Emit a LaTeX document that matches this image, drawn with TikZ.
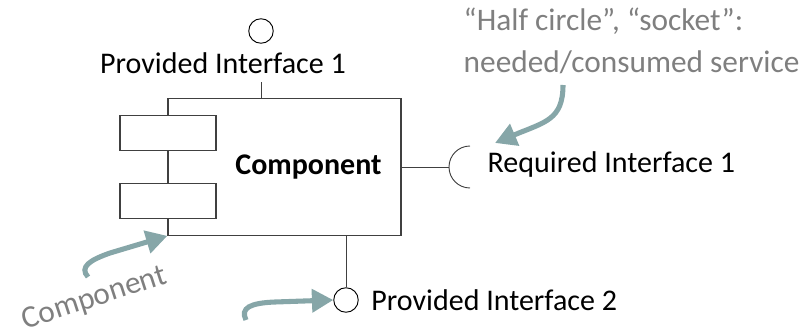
\documentclass[tikz,border=0pt]{standalone}
\usepackage{fontspec}
\setmainfont{Carlito}
\usepackage{xcolor}
\usetikzlibrary{arrows.meta,positioning}
\definecolor{annotteal}{HTML}{86A6A8}
\definecolor{annotgray}{HTML}{7F7F7F}
\definecolor{edge}{HTML}{404040}

\begin{document}
\begin{tikzpicture}[
  x=0.75pt,y=-0.75pt,
  every node/.style={font=\fontsize{22.5}{27}\selectfont},
  compbox/.style={draw=edge,line width=0.9pt,minimum width=174.75pt,
                  minimum height=102.4pt,inner sep=0pt},
  part/.style={draw=edge,line width=0.9pt,fill=white,minimum width=72pt,
               minimum height=25.9pt,inner sep=0pt},
  lollipop/.style={circle,draw=black,line width=0.7pt,minimum size=18.4pt,
                   inner sep=0pt},
  wire/.style={draw=edge,line width=0.7pt},
  note/.style={text=annotgray,font=\fontsize{23.5}{31.5}\selectfont},
  pointer/.style={-{Triangle[length=16pt,width=17pt]},line width=3.8pt,
                  draw=annotteal}
]
\useasboundingbox (0,0) rectangle (807,328);
\node[compbox] (comp) at (284.5,167) {};
\node[part] (part1) at (168,133) {};
\node[part] (part2) at (168,201) {};
\node[font=\fontsize{22.5}{27}\selectfont\bfseries] (complbl) at (308.5,167)
  {Component};
\node[lollipop] (prov1) at (261,31) {};
\draw[wire] (prov1) -- (prov1 |- comp.north);
\node[fill=white,inner xsep=2pt,minimum height=28.5pt] (prov1lbl) at (223,63)
  {Provided Interface 1};
\coordinate (req1) at (449,167);
\coordinate (socktop) at (470,146);
\coordinate (sockbot) at (470,188);
\draw[wire] (comp.east |- req1) -- (req1);
\draw[wire] (socktop) .. controls (458.4,146) and (449,155.4) .. (req1)
  .. controls (449,178.6) and (458.4,188) .. (sockbot);
\node[anchor=west] (req1lbl) at (483,165) {Required Interface 1};
\node[lollipop] (prov2) at (346,300) {};
\draw[wire] (prov2 |- comp.south) -- (prov2);
\node[right=6pt of prov2] (prov2lbl) {Provided Interface 2};
\node[note,align=left,anchor=west] (socketnote) at (459,41)
  {“Half circle”, “socket”:\\needed/consumed service};
\node[note,anchor=base,rotate=18] (compnote) at (97,306) {Component};
\coordinate (socketfrom) at (563,85);
\coordinate (sockettip) at (495,143);
\coordinate (compfrom) at (88,277);
\coordinate (provfrom) at (246,320);
\draw[pointer] (socketfrom) .. controls (563,120) and (545,122) .. (sockettip);
\draw[pointer] (compfrom) .. controls (79,267) and (90,260) .. (110,253)
  -- (comp.south west);
\draw[pointer] (provfrom) .. controls (240,308) and (250,303) .. (275,302)
  -- (prov2.west);
\end{tikzpicture}
\end{document}
